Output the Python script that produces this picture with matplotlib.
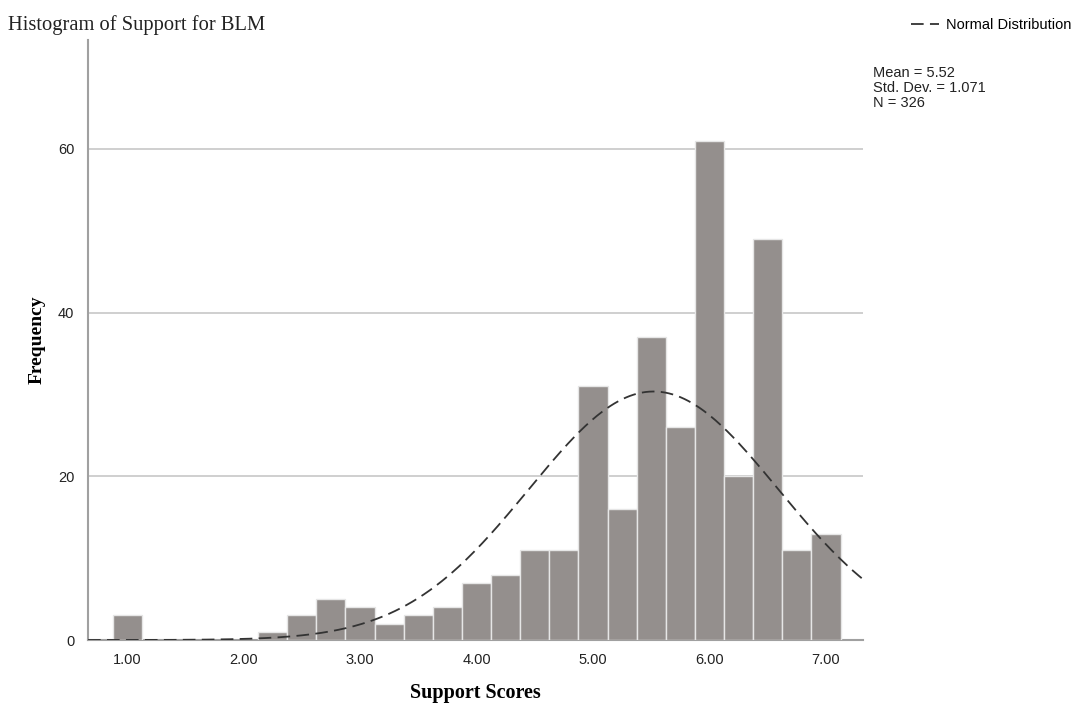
import numpy as np
import matplotlib
matplotlib.use("Agg")
import matplotlib.pyplot as plt

# histogram bins (centres, width 0.25) and their counts
BIN_CENTERS = [1.00, 2.25, 2.50, 2.75, 3.00, 3.25, 3.50, 3.75, 4.00, 4.25, 4.50,
               4.75, 5.00, 5.25, 5.50, 5.75, 6.00, 6.25, 6.50, 6.75, 7.00]
COUNTS = [3, 1, 3, 5, 4, 2, 3, 4, 7, 8, 11,
          11, 31, 16, 37, 26, 61, 20, 49, 11, 13]
BIN_WIDTH = 0.25

MEAN = 5.52
STD_DEV = 1.071
N = 326

X_TICKS = [1, 2, 3, 4, 5, 6, 7]
Y_TICKS = [0, 20, 40, 60]

SERIF = ["Liberation Serif", "DejaVu Serif"]
SANS = ["Liberation Sans", "DejaVu Sans"]


def normalCurve(x):
    scale = N * BIN_WIDTH / (STD_DEV * np.sqrt(2 * np.pi))
    return scale * np.exp(-0.5 * ((x - MEAN) / STD_DEV) ** 2)


def main():
    fig = plt.figure(figsize=(10.75, 7.09), dpi=100)
    ax = fig.add_axes([0.0819, 0.0973, 0.7209, 0.8463])

    ax.bar(BIN_CENTERS, COUNTS, width=BIN_WIDTH, color="#948f8d",
           edgecolor="#e6e6e6", linewidth=1.0, zorder=3)

    x = np.linspace(0.665, 7.318, 400)
    line, = ax.plot(x, normalCurve(x), color="#333333", linewidth=1.3,
                    dashes=(7, 3.5), zorder=4, label="Normal Distribution")

    ax.set_xlim(0.665, 7.318)
    ax.set_ylim(0, 73.3)
    ax.set_xticks(X_TICKS)
    ax.set_xticklabels(["%.2f" % t for t in X_TICKS], family=SANS, fontsize=10.5)
    ax.set_yticks(Y_TICKS)
    ax.set_yticklabels([str(t) for t in Y_TICKS], family=SANS, fontsize=10.5)
    ax.tick_params(axis="x", length=0, pad=9, colors="#222222")
    ax.tick_params(axis="y", length=0, pad=10, colors="#222222")

    ax.grid(axis="y", color="#cccccc", linewidth=1.3, zorder=0)
    for side in ["top", "right"]:
        ax.spines[side].set_visible(False)
    for side in ["left", "bottom"]:
        ax.spines[side].set_color("#a0a0a0")
        ax.spines[side].set_linewidth(1.5)

    ax.set_xlabel("Support Scores", family=SERIF, fontsize=14.5,
                  fontweight="bold")
    ax.xaxis.set_label_coords(0.4994, -0.072)
    ax.set_ylabel("Frequency", family=SERIF, fontsize=14,
                  fontweight="bold")
    ax.yaxis.set_label_coords(-0.055, 0.5)

    fig.text(0.0075, 0.965, "Histogram of Support for BLM", family=SERIF,
             fontsize=14.8, color="#222222", va="center")

    fig.legend(handles=[line], loc="center right",
               bbox_to_anchor=(0.997, 0.965), frameon=False,
               prop={"family": SANS, "size": 10.5}, handlelength=1.9,
               handletextpad=0.5, borderaxespad=0, borderpad=0)

    fig.text(0.812, 0.907,
             "Mean = %.2f\nStd. Dev. = %.3f\nN = %d" % (MEAN, STD_DEV, N),
             family=SANS, fontsize=10.5, va="top", linespacing=1.08,
             color="#222222")

    fig.savefig("out.png", dpi=100)


if __name__ == "__main__":
    main()
